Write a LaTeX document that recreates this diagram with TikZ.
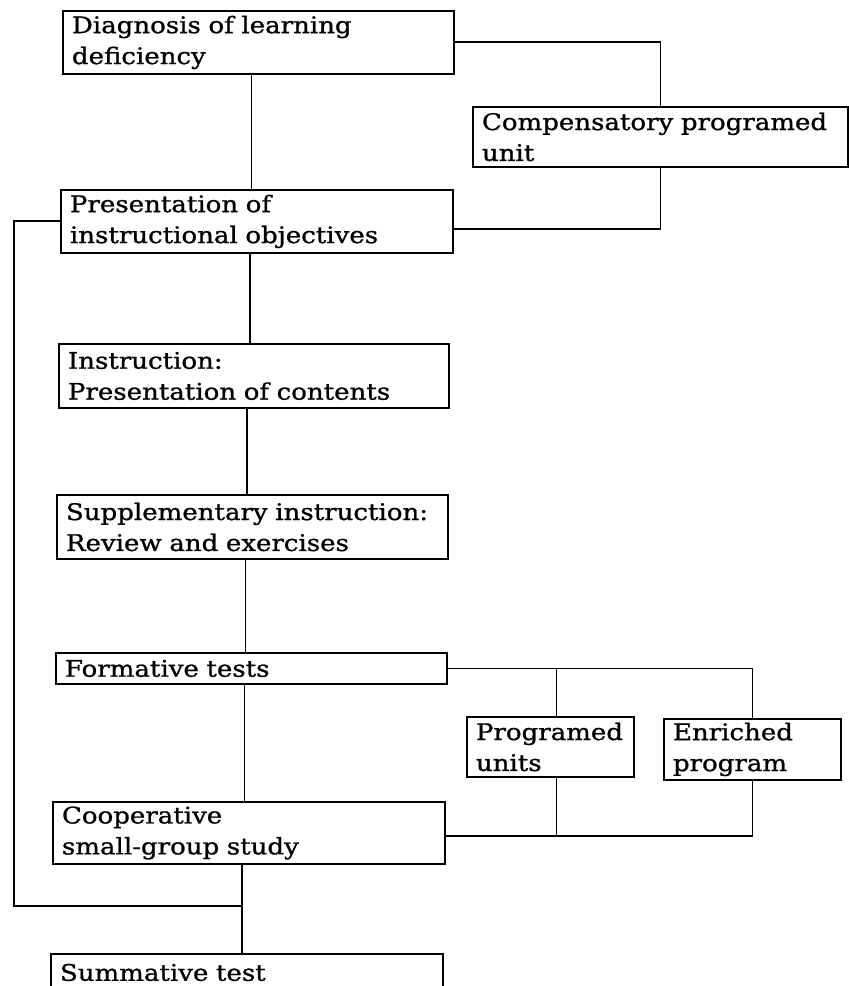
\documentclass[tikz,border=0pt]{standalone}
\usepackage{fontspec}
\newfontfamily\boxfont[FakeStretch=1.14,FakeBold=1]{DejaVu Serif}
\begin{document}
\begin{tikzpicture}[
  box/.style={draw, line width=1.1pt, anchor=north west, align=left,
    inner xsep=0.18cm, inner ysep=0pt,
    font=\boxfont\fontsize{13}{17.6}\selectfont},
  conn/.style={line width=1.1pt}
]
\useasboundingbox (0,0) rectangle (16.98,-19.72);
\clip (0,0) rectangle (16.98,-19.72);

\node[box, text width=7.46cm, minimum height=1.26cm] (diag) at (1.24,-0.20) {Diagnosis of learning\\deficiency};
\node[box, text width=7.14cm, minimum height=1.20cm] (comp) at (9.44,-2.12) {Compensatory programed\\unit};
\node[box, text width=7.48cm, minimum height=1.26cm] (pres) at (1.20,-3.78) {Presentation of\\instructional objectives};
\node[box, text width=7.44cm, minimum height=1.28cm] (instr) at (1.16,-6.86) {Instruction:\\Presentation of contents};
\node[box, text width=7.46cm, minimum height=1.28cm] (supp) at (1.12,-9.88) {Supplementary instruction:\\Review and exercises};
\node[box, text width=7.46cm, minimum height=0.62cm] (form) at (1.10,-13.04) {Formative tests};
\node[box, text width=2.98cm, minimum height=1.20cm] (prog) at (9.32,-14.32) {Programed\\units};
\node[box, text width=3.18cm, minimum height=1.22cm] (enr) at (13.26,-14.36) {Enriched\\program};
\node[box, text width=7.48cm, minimum height=1.24cm] (coop) at (1.04,-16.02) {Cooperative\\small-group study};
\node[box, text width=7.48cm, minimum height=0.74cm] (summ) at (1.00,-19.06) {Summative test};

\coordinate (fbcorner) at (0.28,-18.12);

% main spine
\draw[conn] ([xshift=-0.14cm]diag.south) -- ([xshift=-0.14cm]diag.south |- pres.north);
\draw[conn] ([xshift=-0.14cm]pres.south) -- ([xshift=-0.14cm]pres.south |- instr.north);
\draw[conn] ([xshift=-0.14cm]instr.south) -- ([xshift=-0.14cm]instr.south |- supp.north);
\draw[conn] ([xshift=-0.14cm]supp.south) -- ([xshift=-0.14cm]supp.south |- form.north);
\draw[conn] ([xshift=-0.14cm]form.south) -- ([xshift=-0.14cm]form.south |- coop.north);
\draw[conn] ([xshift=-0.14cm]coop.south) -- ([xshift=-0.14cm]coop.south |- summ.north);

% compensatory loop
\draw[conn] (diag.east) -| (comp.north);
\draw[conn] (comp.south) |- ([yshift=-0.15cm]pres.east);

% feedback loop on the left
\draw[conn] (pres.west) -| (fbcorner) -- ([xshift=-0.14cm]coop.south |- fbcorner);

% formative branches
\draw[conn] (form.east) -| (enr.north);
\draw[conn] ([xshift=0.12cm]prog.north) -- ([xshift=0.12cm]prog.north |- form.east);
\draw[conn] (enr.south) |- ([yshift=-0.06cm]coop.east);
\draw[conn] ([xshift=0.12cm]prog.south) -- ([xshift=0.12cm,yshift=-0.06cm]prog.south |- coop.east);
\end{tikzpicture}
\end{document}
